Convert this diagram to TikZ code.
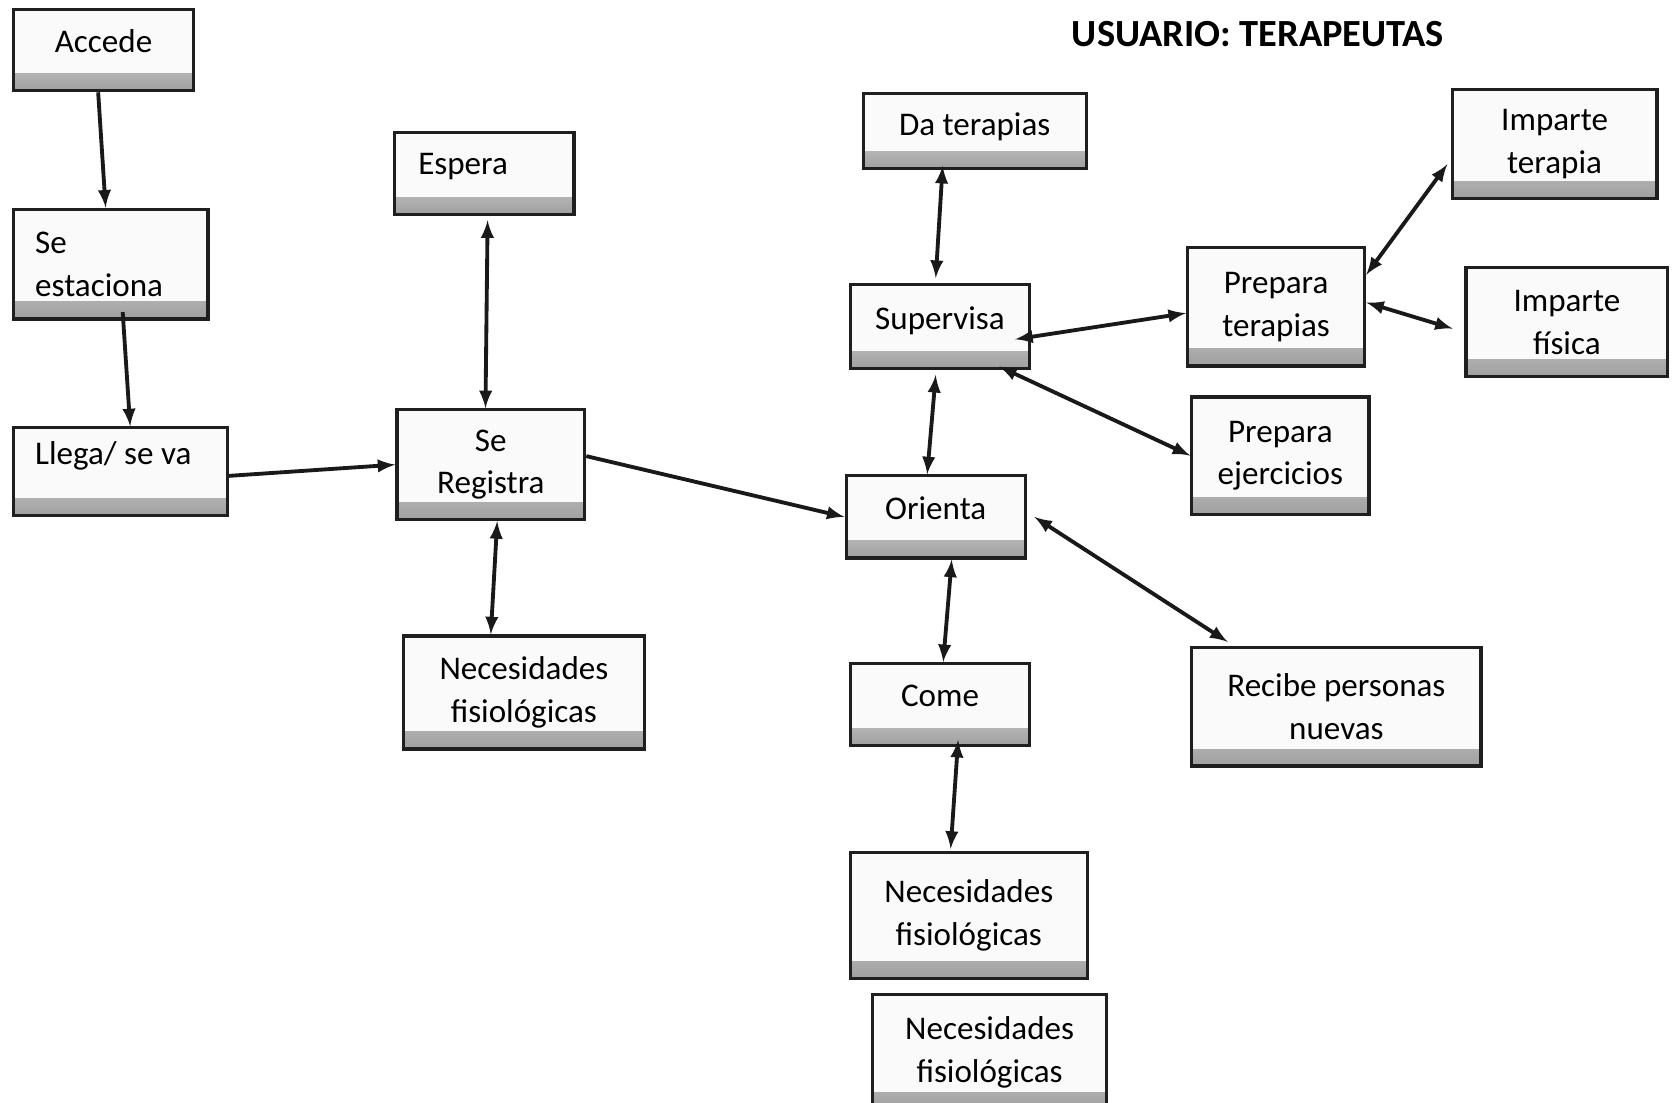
\documentclass[tikz,border=0pt]{standalone}
\usepackage{fontspec}
\setmainfont{Carlito}
\usepackage{tikz}
\usetikzlibrary{positioning,arrows}

\begin{document}
\begin{tikzpicture}[x=0.5pt,y=-0.5pt,>=latex,
    every node/.style={font=\fontsize{15.5}{20}\selectfont},
    caja/.style={draw=black!88,line width=1.5pt,fill=gray!4,inner sep=0pt,align=center,
      path picture={\shade[top color=gray!4,bottom color=gray!75]
        ([yshift=8pt]path picture bounding box.south west) rectangle (path picture bounding box.south east);}},
    flecha/.style={line width=1.8pt,black!90}]
    \useasboundingbox (0,0) rectangle (1568,1033);
    \node[font=\fontsize{18}{22}\selectfont\bfseries] (titulo) at (1179,32) {USUARIO: TERAPEUTAS};
    \node[caja,minimum width=84pt,minimum height=38pt,text depth=9pt] (accede) at (97,47) {Accede};
    \node[caja,minimum width=91pt,minimum height=51.5pt,text width=71pt,align=flush left] (estaciona) at (104,247.5) {Se\\estaciona};
    \node[caja,minimum width=100pt,minimum height=41pt,text width=80pt,align=flush left,text depth=17pt] (llega) at (113,442) {Llega/ se va};
    \node[caja,minimum width=84pt,minimum height=38.5pt,text width=62pt,align=flush left,text depth=9pt] (espera) at (454,162.5) {Espera};
    \node[caja,minimum width=88pt,minimum height=51.5pt] (registra) at (460,435.5) {Se\\Registra};
    \node[caja,minimum width=113pt,minimum height=53pt] (necreg) at (491,649) {Necesidades\\fisiológicas};
    \node[caja,minimum width=104.5pt,minimum height=35pt,text depth=7pt] (dater) at (913.5,123) {Da terapias};
    \node[caja,minimum width=84pt,minimum height=39pt,text depth=8pt] (supervisa) at (881,306) {Supervisa};
    \node[caja,minimum width=84pt,minimum height=38.5pt,text depth=8pt] (orienta) at (877,484.5) {Orienta};
    \node[caja,minimum width=84pt,minimum height=38.5pt,text depth=8pt] (come) at (881,660.5) {Come};
    \node[caja,minimum width=111pt,minimum height=59pt] (necome) at (908,858) {Necesidades\\fisiológicas};
    \node[caja,minimum width=109.5pt,minimum height=54pt] (necextra) at (927.5,986) {Necesidades\\fisiológicas};
    \node[caja,minimum width=83pt,minimum height=55.5pt] (prepter) at (1196,287.5) {Prepara\\terapias};
    \node[caja,minimum width=83pt,minimum height=55pt] (prepej) at (1200,427) {Prepara\\ejercicios};
    \node[caja,minimum width=96pt,minimum height=51pt] (impter) at (1457,135) {Imparte\\terapia};
    \node[caja,minimum width=94.5pt,minimum height=51pt] (impfis) at (1468.5,302) {Imparte\\física};
    \node[caja,minimum width=135.5pt,minimum height=55.5pt] (recibe) at (1252.5,662.5) {Recibe personas\\nuevas};
    \draw[flecha,->] ([xshift=-2.5pt]accede.south) -- ([xshift=-2.5pt]estaciona.north);
    \draw[flecha,->] ([xshift=5.5pt,yshift=4pt]estaciona.south) -- ([xshift=4.5pt]llega.north);
    \draw[flecha,->] ([yshift=-2pt]llega.east) -- (registra.west);
    \draw[flecha,<->] ([xshift=1.5pt,yshift=-2pt]espera.south) -- ([xshift=-2.5pt]registra.north);
    \draw[flecha,<->] ([xshift=3pt]registra.south) -- ([xshift=-15.5pt]necreg.north);
    \draw[flecha,->] ([yshift=4pt]registra.east) -- (orienta.west);
    \draw[flecha,<->] ([xshift=-15pt,yshift=2pt]dater.south) -- ([xshift=-2pt,yshift=2.5pt]supervisa.north);
    \draw[flecha,<->] ([xshift=-2pt,yshift=-2.5pt]supervisa.south) -- ([xshift=-4pt]orienta.north);
    \draw[flecha,<->] ([xshift=-7.5pt,yshift=-6pt]supervisa.east) -- ([yshift=-3pt]prepter.west);
    \draw[flecha,<->] ([xshift=-15pt,yshift=1.5pt]supervisa.south east) -- (prepej.west);
    \draw[flecha,<->] ([yshift=15pt]prepter.east) -- ([xshift=-1.5pt,yshift=-9.5pt]impter.west);
    \draw[flecha,<->] ([yshift=2pt]prepter.east) -- ([xshift=-5.5pt,yshift=-3pt]impfis.west);
    \draw[flecha,<->] ([xshift=3.5pt]orienta.east) -- ([xshift=-51pt,yshift=2pt]recibe.north);
    \draw[flecha,<->] ([xshift=7.5pt]orienta.south) -- ([xshift=1.5pt]come.north);
    \draw[flecha,<->] ([xshift=8.5pt,yshift=3.5pt]come.south) -- ([xshift=-8.5pt,yshift=1pt]necome.north);
\end{tikzpicture}
\end{document}
